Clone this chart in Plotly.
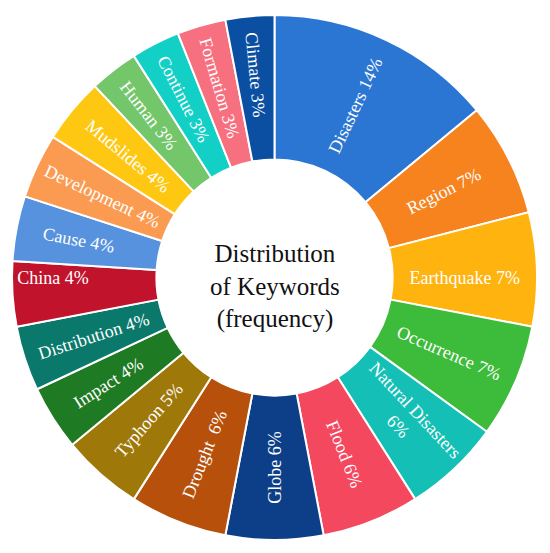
import plotly.graph_objects as go

labels = ["Disasters", "Region", "Earthquake", "Occurrence", "Natural Disasters",
          "Flood", "Globe", "Drought", "Typhoon", "Impact", "Distribution",
          "China", "Cause", "Development", "Mudslides", "Human", "Continue",
          "Formation", "Climate"]
values = [14, 7, 7, 7, 6, 6, 6, 6, 5, 4, 4, 4, 4, 4, 4, 3, 3, 3, 3]
texts = ["Disasters 14%", "Region 7%", "Earthquake 7%", "Occurrence 7%",
         "Natural Disasters<br>6%", "Flood 6%", "Globe 6%", "Drought  6%",
         "Typhoon 5%", "Impact 4%", "Distribution 4%", "China 4%", "Cause 4%",
         "Development 4%", "Mudslides 4%", "Human 3%", "Continue 3%",
         "Formation 3%", "Climate 3%"]
colors = ["#2b76d2", "#f7831f", "#ffb30f", "#3dbb3a", "#14c0b6", "#f4485f",
          "#0d3f88", "#b7500b", "#9f780a", "#1f7a24", "#0a786b", "#c1132b",
          "#5792de", "#fb9b52", "#fec812", "#74c66a", "#12d0c5", "#f7707f",
          "#0b4fa3"]

fig = go.Figure(go.Pie(
    labels=labels, values=values, text=texts,
    textinfo="text", textposition="inside", insidetextorientation="radial",
    sort=False, direction="clockwise", rotation=0, hole=0.45,
    marker=dict(colors=colors, line=dict(color="white", width=2)),
    textfont=dict(family="Liberation Serif, serif", size=18, color="white"),
    showlegend=False,
))
fig.add_annotation(text="Distribution<br>of Keywords<br>(frequency)",
                   x=0.5, y=0.482, xref="paper", yref="paper", showarrow=False,
                   font=dict(family="Liberation Serif, serif", size=25, color="#111"))
fig.update_layout(width=542, height=545, margin=dict(l=4, r=13, t=7, b=13),
                  paper_bgcolor="white")
fig.write_html("out.html")
